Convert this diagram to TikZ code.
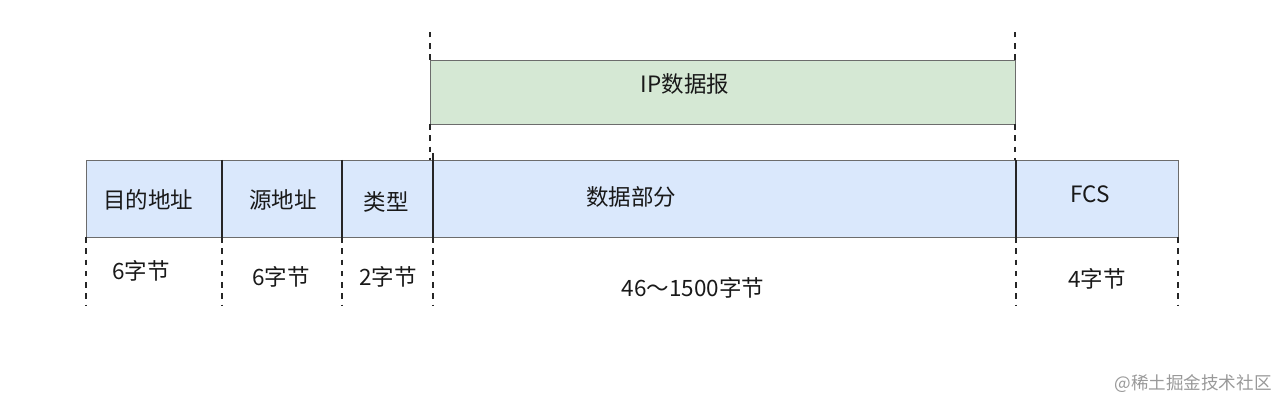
\documentclass[tikz,border=0pt]{standalone}
\usepackage{fontspec}
\newfontfamily\cjk{Noto Sans CJK SC}
\usepackage{tikz}
\usetikzlibrary{positioning}
\usepackage{xcolor}
\definecolor{fieldblue}{HTML}{DAE8FC}
\definecolor{ipgreen}{HTML}{D5E8D4}
\definecolor{edgegray}{HTML}{6C6C6C}

\begin{document}
\begin{tikzpicture}[
    x=0.025cm, y=-0.025cm,
    field/.style={rectangle,draw=edgegray,fill=fieldblue,inner sep=0pt,outer sep=0pt,minimum height=1.925cm},
    ipbox/.style={rectangle,draw=edgegray,fill=ipgreen,inner sep=0pt,outer sep=0pt,minimum height=1.6cm},
    divider/.style={draw=black!85,line width=0.9pt},
    guide/.style={draw=black!85,dashed,line width=0.9pt,dash pattern=on 4pt off 4pt},
    lbl/.style={font=\cjk\fontsize{16}{19}\selectfont,text=black!90,inner sep=1pt}
]
\useasboundingbox (0,0) rectangle (1280,402);

% IP datagram
\node[ipbox,minimum width=14.625cm] (ip) at (722.5,92) {};
\node[lbl] (iplbl) at (685,84) {IP数据报};

% Frame fields
\node[field,minimum width=3.4cm]    (dst)  at (154,198.5)   {};
\node[field,minimum width=3.0cm]    (src)  at (282,198.5)   {};
\node[field,minimum width=2.275cm]  (type) at (387.5,198.5) {};
\node[field,minimum width=14.575cm] (data) at (724.5,198.5) {};
\node[field,minimum width=4.05cm]   (fcs)  at (1097,198.5)  {};

% Dividers between fields
\foreach \f in {dst,src,type,data} {
    \draw[divider] (\f.north east) -- (\f.south east);
}
\coordinate (datatop) at ([yshift=0.18cm]data.north west);
\draw[divider] (datatop) -- (data.north west);

% Field names
\node[lbl] (dstlbl)  at (148,200) {目的地址};
\node[lbl] (srclbl)  at (283,200) {源地址};
\node[lbl] (typelbl) at (386,202) {类型};
\node[lbl] (datalbl) at (631,197) {数据部分};
\node[lbl] (fcslbl)  at (1090,194) {FCS};

% Guide lines below the frame
\foreach \a in {dst.south west,src.south west,type.south west,data.south west,fcs.south west,fcs.south east} {
    \draw[guide] (\a) -- ++(0,68);
}

% Guide lines of the IP datagram
\foreach \a in {north west,north east} {
    \draw[guide] (ip.\a) -- ++(0,-33);
}
\coordinate (ipleft) at (ip.south west |- data.north);
\coordinate (ipright) at (ip.south east |- data.north);
\draw[guide] (ip.south west) -- (ipleft);
\draw[guide] (ip.south east) -- (ipright);

% Sizes
\node[lbl] (dstsize)  at (141,271) {6字节};
\node[lbl] (srcsize)  at (281,277) {6字节};
\node[lbl] (typesize) at (388,277) {2字节};
\node[lbl] (datasize) at (693,288) {46～1500字节};
\node[lbl] (fcssize)  at (1097,279) {4字节};

% Watermark
\node[font=\cjk\fontsize{12.5}{15}\selectfont,text=black!40] (mark) at (1193,384) {@稀土掘金技术社区};

\end{tikzpicture}
\end{document}
